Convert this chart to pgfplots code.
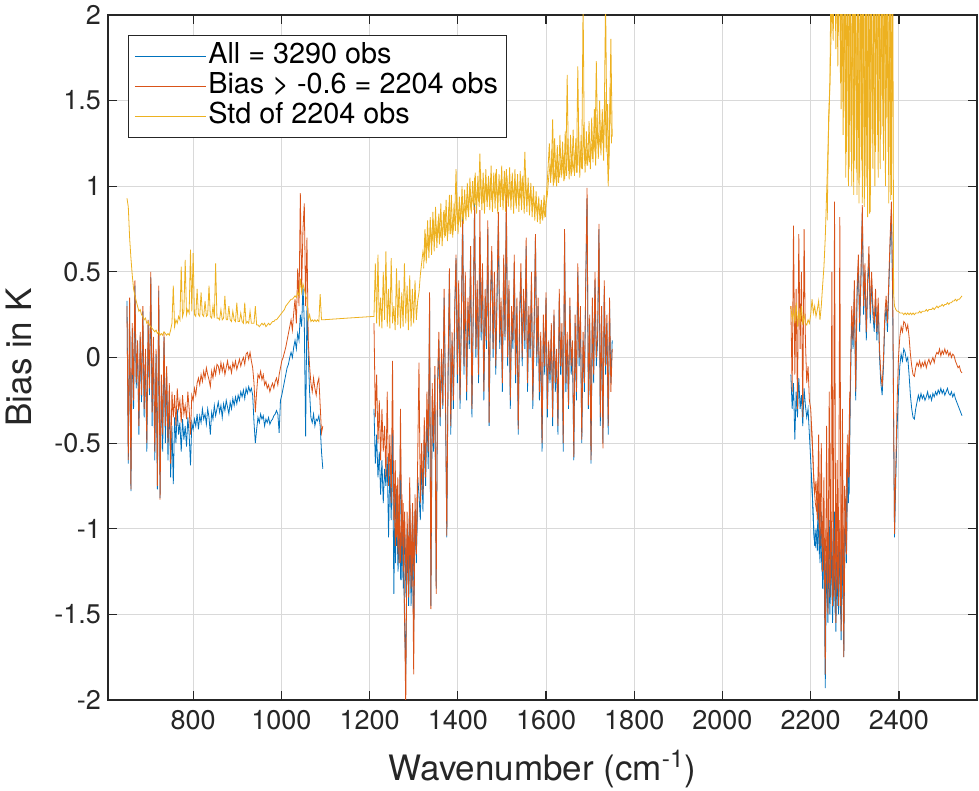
\documentclass[border=0pt]{standalone}
\usepackage{pgfplots}
\pgfplotsset{compat=1.18}
\usepackage{pgfplotstable}
\usepackage{fontspec}
\setmainfont{TeX Gyre Heros}
\definecolor{mblue}{rgb}{0,0.447,0.741}
\definecolor{morange}{rgb}{0.85,0.325,0.098}
\definecolor{myellow}{rgb}{0.929,0.694,0.125}
\definecolor{axgray}{rgb}{0.15,0.15,0.15}
\pgfplotstableread{
x a b s
650 0.33 0.30 0.93
653 -0.62 -0.60 0.88
656 0.32 0.35 0.70
659 -0.78 -0.77 0.58
662 0.17 0.20 0.48
665 -0.30 -0.25 0.40
668 0.42 0.45 0.36
671 -0.18 -0.15 0.33
674 0.07 0.10 0.30
677 -0.45 -0.40 0.27
680 0.12 0.15 0.28
683 -0.26 -0.22 0.25
686 0.27 0.30 0.24
689 -0.35 -0.30 0.22
692 0.02 0.05 0.23
695 -0.55 -0.50 0.20
698 0.19 0.22 0.21
701 -0.22 -0.18 0.19
704 0.47 0.50 0.18
707 -0.40 -0.32 0.17
710 0.09 0.12 0.16
713 -0.60 -0.55 0.15
716 0.02 0.05 0.16
719 -0.77 -0.75 0.14
722 0.39 0.42 0.15
725 -0.82 -0.83 0.13
728 -0.14 -0.10 0.14
731 -0.55 -0.45 0.13
734 0.12 0.15 0.15
737 -0.50 -0.40 0.14
740 -0.09 -0.05 0.13
743 -0.60 -0.50 0.14
746 -0.20 -0.15 0.13
749 -0.70 -0.62 0.16
752 -0.40 -0.20 0.20
755 -0.74 -0.35 0.42
758 -0.35 -0.22 0.18
761 -0.50 -0.40 0.22
764 -0.30 -0.18 0.20
767 -0.45 -0.30 0.24
770 -0.38 -0.25 0.22
773 -0.55 -0.38 0.53
776 -0.36 -0.22 0.24
779 -0.48 -0.33 0.27
782 -0.40 -0.28 0.57
785 -0.52 -0.36 0.25
788 -0.35 -0.20 0.28
791 -0.45 -0.30 0.26
794 -0.63 -0.45 0.63
797 -0.38 -0.22 0.27
800 -0.42 -0.25 0.61
803 -0.36 -0.18 0.25
806 -0.40 -0.22 0.24
809 -0.33 -0.15 0.40
812 -0.42 -0.12 0.25
815 -0.34 -0.16 0.24
818 -0.38 -0.10 0.38
821 -0.30 -0.14 0.25
824 -0.36 -0.08 0.24
827 -0.33 -0.12 0.33
830 -0.39 -0.06 0.24
833 -0.30 -0.10 0.25
836 -0.35 -0.13 0.42
839 -0.45 -0.17 0.24
842 -0.32 -0.08 0.23
845 -0.36 -0.12 0.30
848 -0.28 -0.06 0.23
851 -0.34 -0.10 0.55
854 -0.30 -0.04 0.23
857 -0.26 -0.05 0.23
860 -0.32 -0.09 0.22
863 -0.28 -0.03 0.28
866 -0.35 -0.08 0.22
869 -0.27 -0.04 0.23
872 -0.31 -0.10 0.36
875 -0.25 -0.06 0.22
878 -0.29 -0.02 0.22
881 -0.33 -0.07 0.30
884 -0.26 -0.05 0.22
887 -0.30 -0.09 0.21
890 -0.24 -0.03 0.27
893 -0.28 -0.06 0.22
896 -0.23 -0.02 0.21
899 -0.27 -0.07 0.32
902 -0.22 -0.04 0.21
905 -0.25 -0.01 0.21
908 -0.20 -0.05 0.26
911 -0.23 -0.02 0.21
914 -0.19 0.00 0.20
917 -0.24 -0.04 0.32
920 -0.18 0.02 0.20
923 -0.21 0.03 0.21
926 -0.17 -0.01 0.20
929 -0.20 0.03 0.27
932 -0.18 -0.02 0.20
935 -0.22 -0.06 0.20
938 -0.38 -0.15 0.20
941 -0.50 -0.32 0.30
944 -0.42 -0.20 0.19
947 -0.35 -0.10 0.19
950 -0.38 -0.12 0.18
953 -0.33 -0.08 0.19
956 -0.36 -0.13 0.20
959 -0.34 -0.10 0.19
962 -0.40 -0.16 0.20
965 -0.36 -0.14 0.18
968 -0.38 -0.18 0.19
971 -0.35 -0.16 0.20
974 -0.39 -0.20 0.19
977 -0.37 -0.17 0.20
980 -0.36 -0.15 0.21
983 -0.34 -0.18 0.21
986 -0.33 -0.14 0.22
989 -0.31 -0.12 0.22
992 -0.33 -0.16 0.23
995 -0.44 -0.10 0.24
998 -0.25 -0.06 0.25
1001 -0.22 -0.02 0.26
1004 -0.18 0.00 0.27
1007 -0.14 0.03 0.28
1010 -0.10 0.06 0.30
1013 -0.06 0.10 0.31
1016 -0.04 0.14 0.32
1019 0.00 0.18 0.33
1022 0.03 0.22 0.34
1025 0.00 0.16 0.34
1028 0.06 0.26 0.35
1031 0.10 0.34 0.36
1034 0.05 0.20 0.35
1037 0.14 0.52 0.38
1040 0.10 0.30 0.36
1043 0.25 0.96 0.46
1046 0.18 0.40 0.38
1049 0.42 0.75 0.43
1052 0.20 0.90 0.40
1055 -0.46 0.30 0.36
1058 0.30 0.70 0.34
1061 0.02 0.10 0.22
1064 -0.20 -0.05 0.25
1067 -0.35 -0.15 0.21
1070 -0.38 -0.20 0.22
1073 -0.33 -0.12 0.21
1076 -0.40 -0.18 0.22
1079 -0.36 -0.22 0.21
1082 -0.37 -0.15 0.22
1085 -0.34 -0.12 0.21
1088 -0.40 -0.28 0.37
1091 -0.55 -0.44 0.22
1094 -0.65 -0.40 0.22
1150 nan nan 0.23
1210 -0.30 0.20 0.24
1213 -0.62 -0.35 0.55
1216 -0.45 -0.10 0.20
1219 -0.70 -0.50 0.60
1222 -0.55 -0.25 0.18
1225 -0.80 -0.60 0.35
1228 -0.60 -0.30 0.17
1231 -0.85 -0.55 0.50
1234 -0.65 -0.40 0.22
1237 -0.75 -0.70 0.62
1240 -0.58 -0.20 0.18
1243 -1.05 -0.75 0.40
1246 -0.62 -0.45 0.17
1249 -0.95 -0.85 0.58
1252 -0.40 -0.02 0.20
1255 -1.38 -0.95 0.30
1258 -0.75 -0.60 0.16
1261 -1.10 -1.05 0.52
1264 -0.85 -0.70 0.19
1267 -1.20 -1.20 0.45
1270 -0.50 -0.30 0.17
1273 -1.30 -1.10 0.38
1276 -0.95 -0.85 0.18
1279 -1.51 -1.45 0.55
1282 -1.85 -2.05 0.20
1285 -1.00 -0.90 0.42
1288 -1.30 -1.25 0.16
1291 -0.80 -0.70 0.48
1294 -1.45 -1.35 0.18
1297 -1.10 -1.00 0.40
1300 -1.60 -1.85 0.20
1303 -0.90 -0.80 0.45
1306 -1.20 -1.15 0.22
1309 -0.70 -0.60 0.33
1312 -0.80 -0.03 0.38
1315 -0.95 -0.85 0.48
1318 -0.60 -0.50 0.55
1321 -0.90 -0.80 0.62
1324 -0.45 -0.35 0.58
1327 -0.75 -0.70 0.72
1330 -0.30 -0.20 0.63
1333 -0.65 -0.55 0.70
1336 0.30 0.38 0.66
1339 -1.45 -1.47 0.74
1342 -0.25 -0.15 0.68
1345 -0.55 -0.50 0.80
1348 -0.10 -0.05 0.70
1351 -1.35 -1.38 0.76
1354 -0.20 -0.15 0.72
1357 0.10 0.15 0.84
1360 -0.40 -0.35 0.70
1363 0.00 0.05 0.76
1366 -0.30 -0.28 0.73
1369 0.35 0.40 0.86
1372 -0.25 -0.20 0.71
1375 -1.05 -1.04 0.78
1378 -0.10 -0.05 0.74
1381 0.50 0.52 0.95
1384 -0.45 -0.40 0.72
1387 0.10 0.15 0.80
1390 -0.30 -0.25 0.75
1393 0.25 0.30 0.82
1396 0.58 0.60 1.10
1399 -0.15 -0.10 0.78
1402 0.40 0.45 0.85
1405 -0.30 -0.25 0.79
1408 0.20 0.25 0.90
1411 0.85 0.80 0.82
1414 -0.10 -0.05 0.88
1417 0.45 0.50 0.84
1420 -0.25 -0.20 0.92
1423 0.30 0.35 0.86
1426 0.05 0.10 0.95
1429 0.60 0.65 0.88
1432 -0.35 -0.30 0.93
1435 0.25 0.30 0.90
1438 0.90 0.88 1.05
1441 0.00 0.05 0.89
1444 0.40 0.45 0.97
1447 -0.15 -0.10 0.91
1450 0.70 0.86 1.19
1453 0.10 0.15 0.92
1456 0.50 0.55 0.98
1459 -0.25 -0.20 0.90
1462 0.35 0.40 1.02
1465 0.05 0.10 0.93
1468 0.75 0.80 0.99
1471 -0.40 -0.38 0.94
1474 0.30 0.35 1.05
1477 0.60 0.65 0.92
1480 0.00 0.05 0.98
1483 0.45 0.50 0.95
1486 -0.10 -0.05 1.08
1489 0.35 0.40 0.93
1492 0.80 0.85 0.99
1495 0.05 0.10 0.96
1498 0.30 0.35 1.04
1501 -0.20 -0.15 0.92
1504 0.55 0.60 1.00
1507 0.10 0.12 0.95
1510 0.90 0.96 1.10
1513 -0.05 0.00 0.94
1516 0.40 0.45 0.98
1519 -0.30 -0.25 0.93
1522 0.25 0.30 1.03
1525 0.05 0.10 0.95
1528 0.55 0.60 0.99
1531 -0.15 -0.10 0.92
1534 0.30 0.35 1.00
1537 -0.45 -0.42 0.94
1540 0.20 0.25 0.97
1543 0.50 0.55 0.93
1546 -0.05 0.00 1.05
1549 0.35 0.40 0.95
1552 0.05 0.10 1.20
1555 0.65 0.70 0.94
1558 -0.20 -0.15 0.98
1561 0.25 0.30 0.92
1564 0.00 0.05 0.96
1567 0.45 0.50 0.90
1570 -0.30 -0.25 0.93
1573 0.15 0.20 0.88
1576 0.70 0.72 0.91
1579 -0.05 0.00 0.86
1582 0.30 0.35 0.89
1585 -0.25 -0.20 0.84
1588 0.10 0.15 0.88
1591 -0.55 -0.50 0.82
1594 0.20 0.25 0.87
1597 -0.10 -0.05 0.83
1600 0.35 0.38 0.90
1603 -0.35 -0.30 0.95
1606 0.05 0.10 1.05
1609 -0.15 -0.10 1.12
1612 0.15 0.20 1.08
1615 -0.40 -0.35 1.39
1618 0.25 0.28 1.02
1621 -0.20 -0.15 1.10
1624 0.00 0.05 1.00
1627 -0.45 -0.40 1.15
1630 0.35 0.40 1.05
1633 -0.10 -0.05 1.12
1636 0.15 0.20 1.08
1639 -0.55 -0.50 1.18
1642 0.70 0.75 1.04
1645 -0.20 -0.15 1.13
1648 0.10 0.15 1.65
1651 -0.30 -0.28 1.09
1654 0.30 0.35 1.16
1657 -0.10 -0.05 1.06
1660 0.05 0.10 1.14
1663 -0.60 -0.58 1.10
1666 0.20 0.25 1.20
1669 -0.25 -0.20 1.08
1672 0.50 0.55 1.70
1675 -0.05 0.00 1.12
1678 0.25 0.30 1.18
1681 -0.50 -0.48 1.10
1684 0.10 0.15 2.10
1687 -0.20 -0.15 1.15
1690 0.40 0.45 1.22
1693 0.93 0.99 1.12
1696 -0.30 -0.28 1.20
1699 0.20 0.25 1.14
1702 -0.62 -0.60 1.25
1705 0.30 0.35 1.16
1708 -0.15 -0.10 1.30
1711 0.45 0.50 1.20
1714 -0.05 0.00 1.73
1717 0.10 0.15 1.25
1720 0.75 0.78 1.30
1723 -0.40 -0.35 1.22
1726 0.25 0.30 1.35
1729 -0.50 -0.53 1.25
1732 0.40 0.45 1.40
1735 -0.10 -0.05 2.10
1738 0.20 0.25 1.28
1741 -0.45 -0.40 1.00
1744 0.30 0.35 1.35
1747 -0.15 -0.20 1.86
1750 0.10 0.05 1.29
1950 nan nan nan
2155 -0.10 0.30 0.30
2158 -0.30 -0.20 0.22
2161 -0.15 0.77 0.28
2164 -0.48 -0.10 0.20
2167 -0.20 0.40 0.32
2170 -0.35 -0.30 0.18
2173 -0.12 0.72 0.27
2176 -0.30 0.05 0.21
2179 -0.22 0.50 0.30
2182 -0.40 -0.35 0.19
2185 -0.18 0.75 0.25
2188 -0.28 0.10 0.20
2191 -0.35 -0.15 0.19
2194 -0.30 -0.05 0.22
2197 -0.45 -0.25 0.20
2200 -0.60 -0.30 0.25
2203 -0.75 -0.45 0.34
2206 -0.95 -0.65 0.26
2209 -1.10 -0.80 0.30
2212 -1.00 -0.72 0.24
2215 -1.13 -0.95 0.28
2218 -0.80 -0.45 0.33
2221 -1.20 -1.10 0.22
2224 -0.90 -0.50 0.30
2227 -1.35 -1.25 0.42
2230 -1.05 -0.70 0.53
2233 -1.93 -1.85 0.70
2236 -1.10 -0.40 0.95
2239 -1.55 -1.50 1.20
2242 -0.95 -0.20 1.45
2245 -1.40 -1.30 1.75
2248 -1.00 0.50 2.10
2251 -1.45 -1.40 1.85
2254 -0.90 0.91 2.50
2257 -1.60 -1.55 1.80
2260 -1.10 -0.60 2.60
2263 -1.50 -1.45 1.90
2266 -1.00 0.82 2.40
2269 -1.65 -1.60 1.45
2272 -1.05 -0.30 2.50
2275 -1.75 -1.75 1.40
2278 -0.90 -0.85 2.30
2281 -1.20 -1.15 1.20
2284 -0.60 -0.45 2.60
2287 -0.80 -0.70 1.10
2290 -0.20 -0.10 2.40
2293 0.25 0.30 1.00
2296 0.05 0.10 2.50
2299 0.40 0.45 1.15
2302 -0.25 -0.20 2.30
2305 0.35 0.40 0.95
2308 0.55 0.60 2.50
2311 0.15 0.20 1.05
2314 0.45 0.50 2.40
2317 0.85 0.89 0.90
2320 0.25 0.30 2.50
2323 0.50 0.55 1.00
2326 0.10 0.15 2.20
2329 0.40 0.45 0.82
2332 0.60 0.65 2.40
2335 0.20 0.25 0.85
2338 0.45 0.50 2.30
2341 0.25 0.30 1.10
2344 0.15 0.20 2.50
2347 0.35 0.40 1.20
2350 0.10 0.15 2.30
2353 0.30 0.35 1.05
2356 0.00 0.05 2.40
2359 -0.15 -0.10 1.30
2362 -0.22 -0.17 2.50
2365 -0.05 0.00 1.15
2368 0.20 0.25 2.40
2371 0.30 0.36 1.40
2374 0.15 0.20 2.50
2377 0.40 0.45 0.90
2380 0.65 0.70 2.30
2383 0.85 0.91 0.95
2386 0.30 0.35 2.40
2388 -0.40 -0.35 0.37
2390 -1.05 -1.03 0.30
2393 -0.70 -0.62 0.28
2396 -0.40 -0.25 0.27
2399 -0.20 0.00 0.27
2402 -0.05 0.12 0.26
2405 0.02 0.18 0.26
2408 -0.02 0.15 0.26
2411 0.05 0.21 0.25
2414 0.03 0.20 0.26
2417 -0.02 0.16 0.25
2420 0.00 0.19 0.26
2423 -0.10 0.12 0.25
2426 -0.22 0.02 0.26
2429 -0.30 -0.05 0.25
2432 -0.35 -0.10 0.26
2435 -0.36 -0.11 0.25
2438 -0.30 -0.06 0.26
2441 -0.26 -0.03 0.26
2444 -0.22 -0.05 0.26
2447 -0.25 -0.02 0.27
2450 -0.21 -0.06 0.26
2453 -0.24 -0.03 0.27
2456 -0.22 -0.05 0.27
2459 -0.25 -0.02 0.27
2462 -0.23 -0.06 0.28
2465 -0.20 -0.03 0.27
2468 -0.24 -0.01 0.28
2471 -0.22 -0.04 0.28
2474 -0.25 -0.02 0.28
2477 -0.21 0.00 0.29
2480 -0.23 -0.03 0.28
2483 -0.20 0.01 0.29
2486 -0.22 0.03 0.30
2489 -0.19 0.02 0.29
2492 -0.21 0.05 0.30
2495 -0.18 0.01 0.30
2498 -0.21 0.04 0.31
2501 -0.19 0.02 0.30
2504 -0.22 0.05 0.31
2507 -0.20 0.02 0.31
2510 -0.18 0.04 0.32
2513 -0.21 0.01 0.31
2516 -0.22 0.03 0.32
2519 -0.20 0.00 0.32
2522 -0.23 0.02 0.33
2525 -0.21 0.01 0.33
2528 -0.24 -0.02 0.34
2531 -0.26 -0.04 0.33
2534 -0.28 -0.06 0.34
2537 -0.30 -0.05 0.34
2540 -0.32 -0.08 0.35
2543 -0.34 -0.09 0.36
}\datatable
% extra interleaved channels in the densest parts of the bias spectra
\pgfplotstableread{
x a b
1255.5 -1.00 -0.80
1258.5 -1.20 -1.10
1261.5 -0.90 -0.75
1264.5 -1.25 -1.15
1267.5 -0.95 -0.80
1270.5 -1.30 -1.20
1273.5 -0.90 -0.80
1276.5 -1.35 -1.25
1279.5 -1.00 -0.90
1282.5 -1.40 -1.30
1285.5 -1.10 -1.00
1288.5 -1.45 -1.40
1291.5 -1.05 -0.95
1294.5 -1.25 -1.20
1297.5 -0.90 -0.85
1300.5 -1.30 -1.25
1303.5 -0.95 -0.90
1306.5 -1.10 -1.05
1309.5 -0.75 -0.70
1800 nan nan
2201.5 -0.70 -0.40
2204.5 -0.85 -0.55
2207.5 -1.05 -0.75
2210.5 -1.10 -0.85
2213.5 -1.05 -0.90
2216.5 -0.95 -0.70
2219.5 -1.15 -1.00
2222.5 -1.00 -0.80
2225.5 -1.25 -1.10
2228.5 -1.10 -0.95
2231.5 -1.40 -1.30
2234.5 -1.20 -1.00
2237.5 -1.45 -1.35
2240.5 -1.15 -0.95
2243.5 -1.50 -1.40
2246.5 -1.10 -0.90
2249.5 -1.55 -1.45
2252.5 -1.15 -1.00
2255.5 -1.50 -1.40
2258.5 -1.05 -0.85
2261.5 -1.45 -1.35
2264.5 -1.10 -0.95
2267.5 -1.50 -1.45
2270.5 -1.00 -0.80
2273.5 -1.40 -1.30
2276.5 -1.00 -0.75
2279.5 -1.10 -0.95
2282.5 -0.70 -0.50
2285.5 -0.85 -0.70
2288.5 -0.30 -0.20
}\biasextra
\pgfplotstableread{
x s
1322.5 0.52
1325.5 0.75
1328.5 0.55
1331.5 0.80
1334.5 0.58
1337.5 0.82
1340.5 0.60
1343.5 0.85
1346.5 0.62
1349.5 0.88
1352.5 0.64
1355.5 0.80
1358.5 0.66
1361.5 0.90
1364.5 0.65
1367.5 0.85
1370.5 0.70
1373.5 0.92
1376.5 0.68
1379.5 0.88
1382.5 0.72
1385.5 0.95
1388.5 0.70
1391.5 0.90
1394.5 0.74
1397.5 0.96
1400.5 0.72
1403.5 0.94
1406.5 0.76
1409.5 1.00
1412.5 0.78
1415.5 0.98
1418.5 0.80
1421.5 1.02
1424.5 0.82
1427.5 1.05
1430.5 0.84
1433.5 1.03
1436.5 0.86
1439.5 1.08
1442.5 0.84
1445.5 1.06
1448.5 0.88
1451.5 1.10
1454.5 0.86
1457.5 1.08
1460.5 0.84
1463.5 1.10
1466.5 0.88
1469.5 1.06
1472.5 0.86
1475.5 1.12
1478.5 0.85
1481.5 1.08
1484.5 0.87
1487.5 1.10
1490.5 0.84
1493.5 1.07
1496.5 0.88
1499.5 1.12
1502.5 0.86
1505.5 1.09
1508.5 0.85
1511.5 1.06
1514.5 0.88
1517.5 1.11
1520.5 0.86
1523.5 1.08
1526.5 0.84
1529.5 1.10
1532.5 0.87
1535.5 1.07
1538.5 0.85
1541.5 1.09
1544.5 0.86
1547.5 1.06
1550.5 0.84
1553.5 1.08
1556.5 0.85
1559.5 1.05
1562.5 0.83
1565.5 1.02
1568.5 0.82
1571.5 1.00
1574.5 0.80
1577.5 0.97
1580.5 0.79
1583.5 0.94
1586.5 0.78
1589.5 0.92
1592.5 0.80
1595.5 0.95
1598.5 0.82
1601.5 0.98
1604.5 1.10
1607.5 1.25
1610.5 1.02
1613.5 1.22
1616.5 1.00
1619.5 1.28
1622.5 1.04
1625.5 1.24
1628.5 1.02
1631.5 1.30
1634.5 1.05
1637.5 1.26
1640.5 1.03
1643.5 1.32
1646.5 1.06
1649.5 1.28
1652.5 1.04
1655.5 1.30
1658.5 1.08
1661.5 1.33
1664.5 1.06
1667.5 1.28
1670.5 1.08
1673.5 1.35
1676.5 1.05
1679.5 1.30
1682.5 1.10
1685.5 1.36
1688.5 1.08
1691.5 1.32
1694.5 1.12
1697.5 1.38
1700.5 1.10
1703.5 1.40
1706.5 1.14
1709.5 1.45
1712.5 1.12
1715.5 1.42
1718.5 1.16
1721.5 1.50
1724.5 1.18
1727.5 1.45
1730.5 1.15
1733.5 1.55
1736.5 1.20
1739.5 1.48
1742.5 1.10
1745.5 1.60
1748.5 1.25
1950 nan
2237.5 0.80
2240.5 1.40
2243.5 1.60
2246.5 2.40
2249.5 1.95
2252.5 2.60
2255.5 2.10
2258.5 2.50
2261.5 1.70
2264.5 2.60
2267.5 1.60
2270.5 2.40
2273.5 1.30
2276.5 2.50
2279.5 1.05
2282.5 2.40
2285.5 1.00
2288.5 2.60
2291.5 1.20
2294.5 2.40
2297.5 0.95
2300.5 2.50
2303.5 1.10
2306.5 2.30
2309.5 0.90
2312.5 2.50
2315.5 1.15
2318.5 2.40
2321.5 0.88
2324.5 2.30
2327.5 1.00
2330.5 2.50
2333.5 0.84
2336.5 2.40
2339.5 1.25
2342.5 2.30
2345.5 1.00
2348.5 2.50
2351.5 1.30
2354.5 2.40
2357.5 1.10
2360.5 2.50
2363.5 1.35
2366.5 2.30
2369.5 1.00
2372.5 2.40
2375.5 1.20
2378.5 2.50
2381.5 0.92
2384.5 2.40
}\stdextra
\begin{document}
\begin{tikzpicture}
\useasboundingbox (-54pt,-45.5pt) rectangle (435.5pt,350pt);
\begin{axis}[
  at={(0,0)}, anchor=south west,
  scale only axis, width=434.5pt, height=342.5pt,
  xmin=607, xmax=2577, ymin=-2, ymax=2,
  unbounded coords=jump,
  xtick={800,1000,1200,1400,1600,1800,2000,2200,2400},
  xticklabels={800,1000,1200,1400,1600,1800,2000,2200,2400},
  ytick={-2,-1.5,-1,-0.5,0,0.5,1,1.5,2},
  yticklabels={-2,-1.5,-1,-0.5,0,0.5,1,1.5,2},
  tick align=inside, major tick length=4.5pt,
  tick style={axgray, line width=0.6pt},
  axis line style={axgray, line width=0.6pt},
  grid=major, major grid style={black!15, line width=0.5pt},
  ticklabel style={font=\fontsize{13.5}{16}\selectfont, text=axgray},
  xticklabel style={anchor=base, yshift=-15pt},
  xlabel={Wavenumber (cm\textsuperscript{-1})},
  ylabel={Bias in K},
  label style={font=\fontsize{17.5}{20}\selectfont, text=axgray, inner sep=0pt},
  xlabel style={at={(axis description cs:0.5,0)}, anchor=base, yshift=-40pt},
  ylabel style={at={(axis description cs:0,0.5)}, anchor=south, yshift=38pt},
  legend style={at={(0,1)}, anchor=north west, xshift=10pt, yshift=-10pt,
    draw=axgray, line width=0.5pt, fill=white,
    font=\fontsize{14.4}{16}\selectfont, inner xsep=3pt, inner ysep=3pt,
    nodes={inner sep=1pt, text height=10pt, text depth=3pt, anchor=west}},
  legend cell align=left,
  legend image code/.code={\path (-2.5pt,0pt) -- (33pt,0pt); \draw[#1, line width=0.5pt] (0pt,0pt) -- (30pt,0pt);},
]
\addplot[mblue, line width=0.4pt] table[x=x, y=a] {\datatable};
\addlegendentry{All = 3290 obs}
\addplot[mblue, line width=0.4pt, forget plot] table[x=x, y=a] {\biasextra};
\addplot[morange, line width=0.4pt] table[x=x, y=b] {\datatable};
\addlegendentry{Bias > -0.6 = 2204 obs}
\addplot[morange, line width=0.4pt, forget plot] table[x=x, y=b] {\biasextra};
\addplot[myellow, line width=0.4pt] table[x=x, y=s] {\datatable};
\addlegendentry{Std of 2204 obs}
\addplot[myellow, line width=0.4pt, forget plot] table[x=x, y=s] {\stdextra};
\end{axis}
\end{tikzpicture}
\end{document}
